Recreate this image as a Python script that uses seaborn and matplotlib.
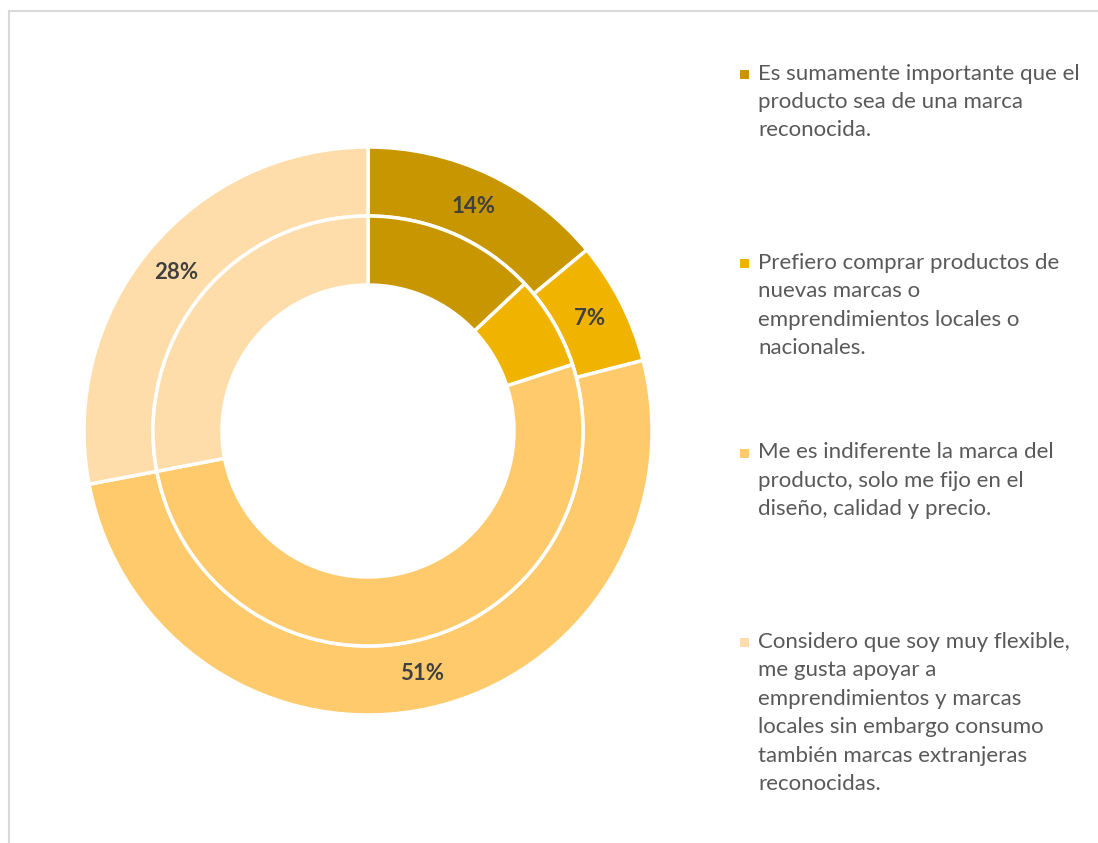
import matplotlib
matplotlib.use('Agg')
import matplotlib.pyplot as plt
import seaborn as sns
from matplotlib.patches import Rectangle

# Datos
categorias = [
    'Es sumamente importante que el\nproducto sea de una marca\nreconocida.',
    'Prefiero comprar productos de\nnuevas marcas o\nemprendimientos locales o\nnacionales.',
    'Me es indiferente la marca del\nproducto, solo me fijo en el\ndiseño, calidad y precio.',
    'Considero que soy muy flexible,\nme gusta apoyar a\nemprendimientos y marcas\nlocales sin embargo consumo\ntambién marcas extranjeras\nreconocidas.',
]
anillo_externo = [14, 7, 51, 28]
anillo_interno = [13, 7, 52, 28]
colores = ['#C89600', '#F0B400', '#FFCA6B', '#FFDDAA']

sns.set_theme(style='white')
plt.rcParams['font.family'] = ['Lato', 'DejaVu Sans']

W, H = 1098, 843
fig = plt.figure(figsize=(W / 100, H / 100), dpi=100)

# Borde del área del gráfico
fig.patches.append(Rectangle((9 / W, -0.1), 1.2, (H - 11) / H + 0.1,
                             transform=fig.transFigure, fill=False,
                             edgecolor='#D9D9D9', lw=1.5))

# Donut doble
r = 284
ax = fig.add_axes([(368 - r) / W, (H - 431 - r) / H, 2 * r / W, 2 * r / H])
ax.pie(anillo_externo, radius=1, colors=colores, startangle=90, counterclock=False,
       wedgeprops=dict(width=69 / r, edgecolor='white', linewidth=2.5),
       autopct='%1.0f%%', pctdistance=0.875,
       textprops=dict(color='#404040', fontsize=16, fontweight='bold'))
ax.pie(anillo_interno, radius=215 / r, colors=colores, startangle=90, counterclock=False,
       wedgeprops=dict(width=69 / r, edgecolor='white', linewidth=2.5))
ax.set_xlim(-1, 1)
ax.set_ylim(-1, 1)

# Leyenda manual (espaciado uniforme como en Excel)
y0, paso = 74, 189.5
for i, (cat, col) in enumerate(zip(categorias, colores)):
    y = y0 + paso * i
    fig.patches.append(Rectangle(((740) / W, 1 - (y + 4.5) / H), 9 / W, 9 / H,
                                 transform=fig.transFigure, facecolor=col, edgecolor='none'))
    fig.text(758 / W, 1 - (y - 10.5) / H, cat, va='top', ha='left',
             fontsize=16, color='#595959', linespacing=1.53)

fig.savefig('out.png', dpi=100)
